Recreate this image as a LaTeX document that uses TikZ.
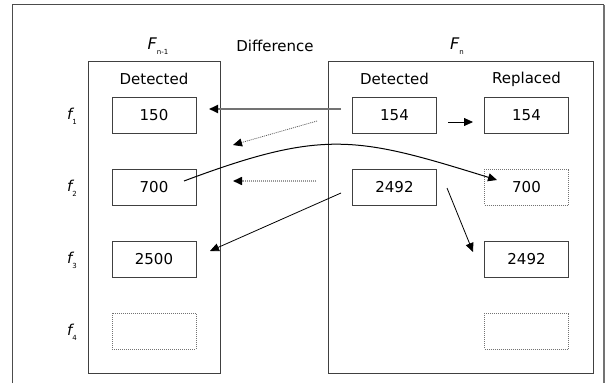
\documentclass[tikz,border=0pt]{standalone}
\usepackage{fontspec}
\setmainfont{DejaVu Sans}
\usetikzlibrary{arrows.meta}
\begin{document}
\begin{tikzpicture}[x=1pt,y=-1pt,
  txt/.style={font=\fontsize{15}{18}\selectfont, inner sep=0pt},
  valbox/.style={draw=black!75, line width=0.9pt, minimum width=84pt, minimum height=36pt, inner sep=0pt, font=\fontsize{15}{18}\selectfont},
  finedots/.style={dash pattern=on 1pt off 1pt},
  emptybox/.style={draw=black!55, line width=0.8pt, finedots, minimum width=84pt, minimum height=36pt, inner sep=0pt, font=\fontsize{15}{18}\selectfont},
  panel/.style={draw=black!75, line width=1pt, inner sep=0pt},
  tip/.style={-{Triangle[length=9pt,width=8pt,color=black]}},
  conn/.style={tip, line width=0.8pt, black},
]
\useasboundingbox (0,0) rectangle (615,383);
% outer frame
\draw[black!70, line width=1pt] (12,383) -- (12,4.5) -- (604,4.5);
\draw[black!55, line width=2pt] (604,4.5) -- (604,383);
% panels
\node[panel, minimum width=132pt, minimum height=312pt] (PL) at (154,217) {};
\node[panel, minimum width=265pt, minimum height=312pt] (PR) at (460.5,217) {};
% headings
\node[txt] (Fn1) at (158,46) {\fontsize{16}{18}\selectfont\itshape F\raisebox{-5pt}{\fontsize{7}{7}\selectfont\upshape n-1}};
\node[txt] (Diff) at (275,46) {Difference};
\node[txt] (Fn) at (457,46) {\fontsize{16}{18}\selectfont\itshape F\raisebox{-5pt}{\fontsize{7}{7}\selectfont\upshape n}};
\node[txt] (DetL) at (154,79) {Detected};
\node[txt] (DetR) at (394.5,79) {Detected};
\node[txt] (Rep) at (526.5,79) {Replaced};
% row labels
\node[txt] (f1) at (72,116) {\itshape f\raisebox{-5pt}{\fontsize{7}{7}\selectfont\upshape 1}};
\node[txt] (f2) at (72,188) {\itshape f\raisebox{-5pt}{\fontsize{7}{7}\selectfont\upshape 2}};
\node[txt] (f3) at (72,260) {\itshape f\raisebox{-5pt}{\fontsize{7}{7}\selectfont\upshape 3}};
\node[txt] (f4) at (72,332) {\itshape f\raisebox{-5pt}{\fontsize{7}{7}\selectfont\upshape 4}};
% left boxes
\node[valbox] (L1) at (154,115) {150};
\node[valbox] (L2) at (154,187) {700};
\node[valbox] (L3) at (154,259) {2500};
\node[emptybox] (L4) at (154,331) {};
% right detected
\node[valbox] (D1) at (394.5,115) {154};
\node[valbox] (D2) at (394.5,187) {2492};
% replaced
\node[valbox] (R1) at (526.5,115) {154};
\node[emptybox] (R2) at (526.5,187) {700};
\node[valbox] (R3) at (526.5,259) {2492};
\node[emptybox] (R4) at (526.5,331) {};
% connector end points
\coordinate (a1s) at (341,109);
\coordinate (a1e) at (209,109);
\coordinate (a2s) at (317,121);
\coordinate (a2e) at (233,145);
\coordinate (a4s) at (316,181);
\coordinate (a4e) at (233,181);
\coordinate (a5s) at (341,193);
\coordinate (a5e) at (210,251);
\coordinate (a6s) at (448,122);
\coordinate (a6e) at (473,122);
\coordinate (a7s) at (447,188);
\coordinate (a7e) at (473,252);
\coordinate (cs) at (184,181);
\coordinate (ce) at (497,180);
% connectors
\draw[tip, black!55, line width=1.8pt] (a1s) -- (a1e);
\draw[tip, black!70, line width=0.7pt, finedots] (a2s) -- (a2e);
\draw[tip, black!40, line width=1.6pt, finedots] (a4s) -- (a4e);
\draw[conn] (a5s) -- (a5e);
\draw[conn] (a6s) -- (a6e);
\draw[conn] (a7s) -- (a7e);
\draw[conn, line width=1pt] (cs) .. controls (324,128.5) and (357,136.6) .. (ce);
\end{tikzpicture}
\end{document}
